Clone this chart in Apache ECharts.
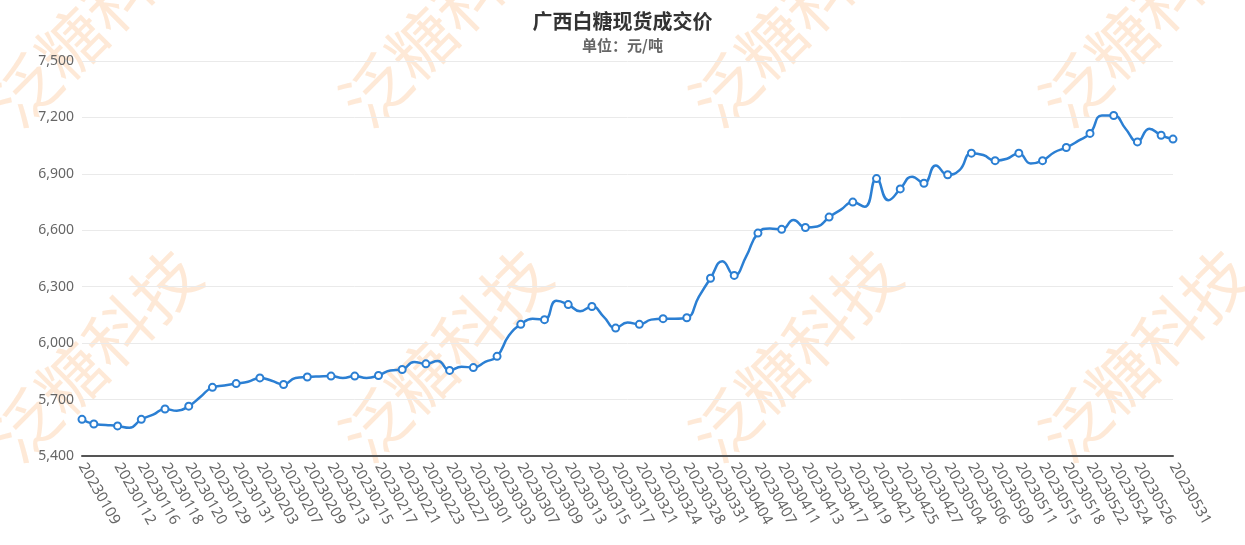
<!DOCTYPE html>
<html>
<head>
<meta charset="utf-8">
<title>广西白糖现货成交价</title>
<script src="https://cdn.jsdelivr.net/npm/echarts@6/dist/echarts.min.js"></script>
<style>
    html,body{margin:0;padding:0;background:#fff;}
    #myChart{width:1245px;height:545px;}
</style>
</head>
<body>
<div id="myChart"></div>
<script>
    // 日期（交易日）
    var dates = [
        '20230109','20230110','20230111','20230112','20230113','20230116','20230117','20230118','20230119','20230120',
        '20230128','20230129','20230130','20230131','20230202','20230203','20230206','20230207','20230208','20230209',
        '20230210','20230213','20230214','20230215','20230216','20230217','20230220','20230221','20230222','20230223',
        '20230224','20230227','20230228','20230301','20230302','20230303','20230306','20230307','20230308','20230309',
        '20230310','20230313','20230314','20230315','20230316','20230317','20230320','20230321','20230323','20230324',
        '20230327','20230328','20230330','20230331','20230403','20230404','20230406','20230407','20230410','20230411',
        '20230412','20230413','20230414','20230417','20230418','20230419','20230420','20230421','20230424','20230425',
        '20230426','20230427','20230428','20230504','20230505','20230506','20230508','20230509','20230510','20230511',
        '20230512','20230515','20230517','20230518','20230519','20230522','20230523','20230524','20230525','20230526',
        '20230529','20230530','20230531'
    ];
    // 成交价（元/吨）
    var prices = [
        5595,5570,5565,5560,5550,5595,5620,5650,5640,5665,
        5715,5765,5775,5785,5795,5815,5800,5780,5815,5820,
        5823,5825,5815,5825,5815,5828,5855,5860,5900,5890,
        5905,5855,5875,5870,5900,5930,6040,6100,6130,6125,
        6225,6205,6170,6195,6140,6080,6110,6100,6125,6130,
        6130,6135,6245,6345,6435,6360,6460,6585,6610,6605,
        6655,6615,6620,6670,6710,6750,6725,6875,6760,6820,
        6885,6850,6945,6895,6920,7010,7000,6970,6980,7010,
        6955,6970,7015,7040,7075,7115,7210,7210,7140,7070,
        7140,7105,7085
    ];
    // y轴刻度
    var yMin = 5400, yMax = 7500, yStep = 300;

    var last = dates.length - 1;
    // 显示标签的位置：首、尾、以及中间隔一个
    function showLabel(i){
        return i === 0 || i === last || (i % 2 === 1 && i >= 3 && i <= last - 3);
    }
    // 显示圆点的位置
    function showDot(i){
        return i === 0 || i === last || i % 2 === 1;
    }

    // 水印
    var marks = [];
    var markX = [95, 445, 795, 1145];
    var markY = [20, 355];
    for(var a=0;a<markY.length;a++){
        for(var b=0;b<markX.length;b++){
            marks.push({
                type:'text',
                x: markX[b],
                y: markY[a],
                rotation: Math.PI/4,
                silent:true,
                z:0,
                style:{
                    text:'泛糖科技',
                    fontSize:66,
                    fontFamily:'Noto Sans CJK SC',
                    fill:'rgba(252,196,150,0.38)',
                    align:'center',
                    verticalAlign:'middle'
                }
            });
        }
    }

    var myChart = echarts.init(document.getElementById('myChart'));
    var option = {
        backgroundColor:'#fff',
        graphic: marks,
        title:{
            text:'广西白糖现货成交价',
            subtext:'单位：元/吨',
            left:'center',
            top:6,
            itemGap:7,
            textStyle:{fontSize:20,fontWeight:'bold',color:'#333',fontFamily:'Noto Sans CJK SC'},
            subtextStyle:{fontSize:15,fontWeight:'bold',color:'#666',fontFamily:'Noto Sans CJK SC'}
        },
        grid:{
            left:82,
            right:72,
            top:61,
            bottom:89
        },
        xAxis:{
            type:'category',
            data:dates,
            boundaryGap:false,
            axisLine:{lineStyle:{color:'#555',width:2}},
            axisTick:{show:false},
            axisLabel:{
                interval:function(i){ return showLabel(i); },
                rotate:-60,
                fontSize:15,
                color:'#666',
                margin:8,
                fontFamily:'Noto Sans'
            }
        },
        yAxis:{
            type:'value',
            min:yMin,
            max:yMax,
            interval:yStep,
            axisLine:{show:false},
            axisTick:{show:false},
            splitLine:{lineStyle:{color:'#eaeaea'}},
            axisLabel:{
                fontSize:14,
                color:'#666',
                margin:8,
                fontFamily:'Noto Sans',
                formatter:function(v){ return echarts.format.addCommas(v); }
            }
        },
        series:[
            {
                name:'广西白糖现货成交价',
                type:'line',
                data:prices,
                smooth:true,
                showAllSymbol:true,
                symbol:function(v,p){ return showDot(p.dataIndex) ? 'emptyCircle' : 'none'; },
                symbolSize:7,
                lineStyle:{color:'#2b7fd3',width:2.5},
                itemStyle:{color:'#2b7fd3',borderColor:'#5c9fe0',borderWidth:1.5},
                z:5
            }
        ]
    };
    myChart.setOption(option);
</script>
</body>
</html>
